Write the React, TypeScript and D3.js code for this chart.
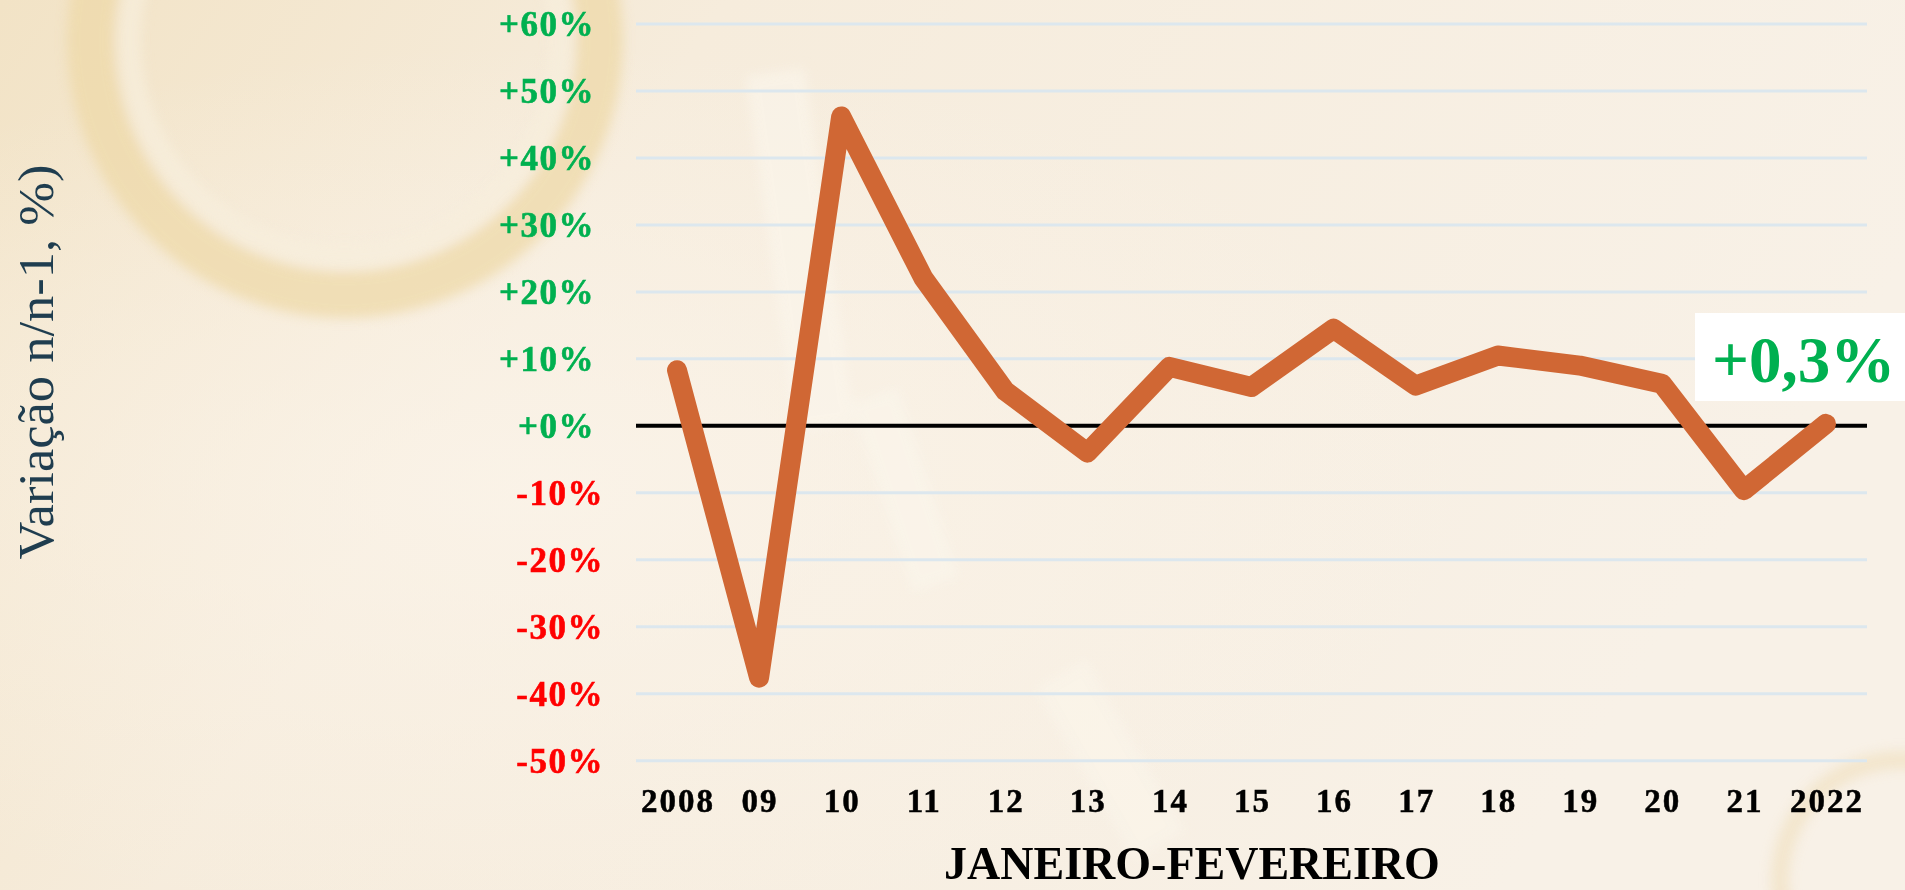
import React from "react";
import * as d3 from "d3";

const categories = ["2008", "09", "10", "11", "12", "13", "14", "15", "16", "17", "18", "19", "20", "21", "2022"];
const values = [8.3, -37.6, 46.2, 22.1, 5.2, -4.0, 8.8, 5.8, 14.5, 6.0, 10.5, 9.0, 6.3, -9.6, 0.3];
const yTicks = [60, 50, 40, 30, 20, 10, 0, -10, -20, -30, -40, -50];
const yTitle = "Variação n/n-1, %)";
const xTitle = "JANEIRO-FEVEREIRO";
const lastLabel = "+0,3%";

const W = 1905;
const H = 890;
const SERIF = "'Liberation Serif', 'Times New Roman', serif";

export default function App() {
  const x = d3.scaleBand<string>().domain(categories).range([636, 1867]).paddingInner(0).paddingOuter(0);
  const y = d3.scaleLinear().domain([-50, 60]).range([760.7, 24]);
  const cx = (c: string) => (x(c) as number) + x.bandwidth() / 2;

  const line = d3
    .line<number>()
    .x((_, i) => cx(categories[i]))
    .y((d) => y(d));

  const fmt = (v: number) => (v < 0 ? `-${Math.abs(v)}%` : `+${v}%`);

  return (
    <svg
      width={W}
      height={H}
      style={{ position: "fixed", left: 0, top: 0, display: "block" }}
      xmlns="http://www.w3.org/2000/svg"
    >
      <defs>
        <linearGradient id="bg" x1="0" y1="0" x2="1" y2="0.3">
          <stop offset="0" stopColor="#F2E3C6" />
          <stop offset="0.35" stopColor="#F6ECDC" />
          <stop offset="1" stopColor="#F8F1E7" />
        </linearGradient>
        <radialGradient id="glow" cx="0.28" cy="0.55" r="0.5">
          <stop offset="0" stopColor="#FBF4EA" stopOpacity="0.8" />
          <stop offset="1" stopColor="#FBF4EA" stopOpacity="0" />
        </radialGradient>
        <filter id="blur" x="-20%" y="-20%" width="140%" height="140%">
          <feGaussianBlur stdDeviation="6" />
        </filter>
      </defs>
      <rect x={0} y={0} width={W} height={H} fill="url(#bg)" />
      <rect x={0} y={0} width={W} height={H} fill="url(#glow)" />
      {/* faint decorative coin rings */}
      <g filter="url(#blur)" opacity={0.75}>
        <circle cx={345} cy={40} r={255} fill="none" stroke="#EED9A8" strokeWidth={46} />
        <circle cx={345} cy={40} r={215} fill="none" stroke="#F7EEDC" strokeWidth={22} />
        <rect x={770} y={70} width={60} height={360} fill="#FBF6EC" opacity={0.8} transform="rotate(-8 800 250)" />
        <rect x={880} y={390} width={50} height={200} fill="#FBF6EC" opacity={0.7} transform="rotate(-18 905 490)" />
        <rect x={1080} y={660} width={60} height={200} fill="#FBF6EC" opacity={0.6} transform="rotate(-30 1110 760)" />
        <circle cx={1900} cy={880} r={120} fill="none" stroke="#F1E2C4" strokeWidth={18} />
      </g>

      {/* gridlines */}
      {yTicks
        .filter((t) => t !== 0)
        .map((t) => (
          <line key={t} x1={636} x2={1867} y1={y(t)} y2={y(t)} stroke="#DCE7EE" strokeWidth={3} />
        ))}
      <line x1={636} x2={1867} y1={y(0)} y2={y(0)} stroke="#000" strokeWidth={4} />

      {/* y tick labels */}
      {yTicks.map((t) => (
        <text
          key={t}
          x={t < 0 ? 604 : 595}
          y={y(t) + 12}
          textAnchor="end"
          fontFamily={SERIF}
          fontWeight="bold"
          fontSize={35}
          letterSpacing={1.5}
          stroke={t < 0 ? "#FF0000" : "#00B050"}
          strokeWidth={0.6}
          fill={t < 0 ? "#FF0000" : "#00B050"}
        >
          {fmt(t)}
        </text>
      ))}

      {/* x tick labels */}
      {categories.map((c) => (
        <text
          key={c}
          x={cx(c) + 1}
          y={812}
          textAnchor="middle"
          fontFamily={SERIF}
          fontWeight="bold"
          fontSize={33}
          letterSpacing={2}
          stroke="#000"
          strokeWidth={0.5}
          fill="#000"
        >
          {c}
        </text>
      ))}

      {/* series line */}
      <path
        d={line(values) || ""}
        fill="none"
        stroke="#D06734"
        strokeWidth={20}
        strokeLinejoin="round"
        strokeLinecap="round"
      />

      {/* last value label */}
      <rect x={1695} y={313} width={210} height={88} fill="#FFFFFF" />
      <text
        x={1712}
        y={382}
        fontFamily={SERIF}
        fontWeight="bold"
        fontSize={65}
        fill="#00B050"
      >
        {lastLabel}
      </text>

      {/* axis titles */}
      <text
        transform="translate(53,362) rotate(-90)"
        textAnchor="middle"
        fontFamily={SERIF}
        fontSize={50}
        textLength={395}
        lengthAdjust="spacingAndGlyphs"
        fill="#1F3D4F"
      >
        {yTitle}
      </text>
      <text
        x={1192}
        y={879}
        textAnchor="middle"
        fontFamily={SERIF}
        fontWeight="bold"
        fontSize={46}
        fill="#000"
      >
        {xTitle}
      </text>
    </svg>
  );
}
